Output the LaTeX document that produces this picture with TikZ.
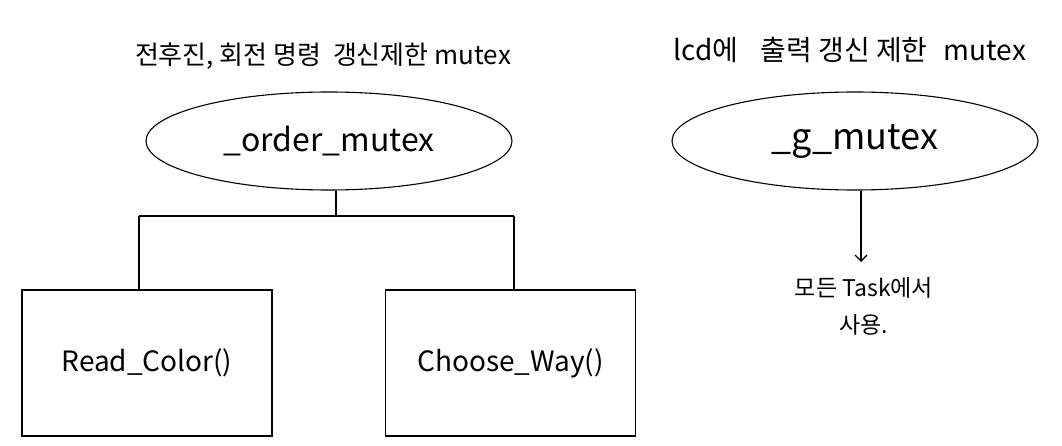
\documentclass[tikz,border=0pt]{standalone}
\usepackage{fontspec}
\setmainfont{Noto Sans CJK KR}
\usetikzlibrary{shapes.geometric,arrows.meta}
\begin{document}
\begin{tikzpicture}[x=1pt,y=-1pt,
  mutexnode/.style={draw,line width=1.1pt,ellipse,minimum width=366pt,minimum height=98pt,inner sep=0pt},
  taskbox/.style={draw,line width=1.6pt,rectangle,minimum width=250pt,minimum height=146pt,inner sep=0pt,font=\fontsize{28}{34}\selectfont},
  caption/.style={inner sep=0pt,font=\fontsize{26}{30}\selectfont},
  conn/.style={line width=1.3pt}]
\useasboundingbox (0,0) rectangle (1062,446);
\node[caption] (c1) at (323,56) {전후진, 회전 명령\ \ 갱신제한 mutex};
\node[caption,font=\fontsize{28}{32}\selectfont] (c2) at (850,50) {lcd에\hspace{22pt}출력 갱신 제한\hspace{16pt}mutex};
\node[mutexnode,font=\fontsize{32}{38}\selectfont] (om) at (329,141) {\_order\_mutex};
\node[mutexnode,font=\fontsize{36}{42}\selectfont] (gm) at (855,141) {\_g\_mutex};
\node[taskbox] (rc) at (147,363) {Read\_Color()};
\node[taskbox] (cw) at (510.5,363) {Choose\_Way()};
\coordinate (jm) at (336,216);
\coordinate (jl) at (139,216);
\coordinate (jr) at (514,216);
\draw[conn] (om.south -| jm) -- (jm);
\draw[conn] (jl) -- (jr);
\draw[conn] (jl) -- (jl |- rc.north);
\draw[conn] (jr) -- (jr |- cw.north);
\coordinate (ae) at (861,262);
\draw[conn,-{Straight Barb[length=6pt,width=12pt]}] (gm.south -| ae) -- (ae);
\node[inner sep=0pt,align=center,font=\fontsize{23}{37}\selectfont] (tk) at (864,306) {모든 Task에서\\사용.};
\end{tikzpicture}
\end{document}
